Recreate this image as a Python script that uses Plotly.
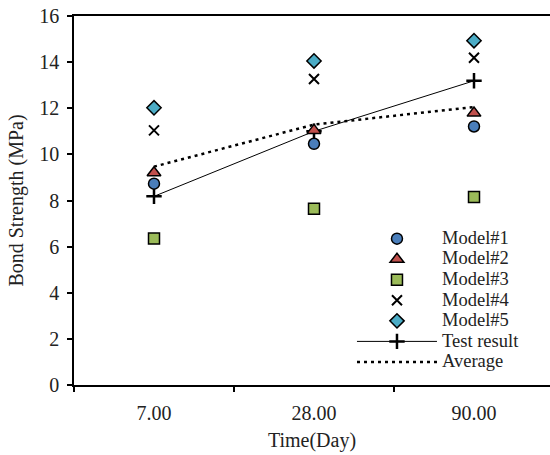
import plotly.graph_objects as go

days = ["7.00", "28.00", "90.00"]
model1 = [8.73, 10.46, 11.21]
model2 = [9.20, 11.04, 11.79]
model3 = [6.35, 7.64, 8.15]
model4 = [11.04, 13.27, 14.19]
model5 = [12.02, 14.05, 14.93]
test_result = [8.18, 11.0, 13.19]
average = [round(sum(v) / 5, 3) for v in zip(model1, model2, model3, model4, model5)]
names = ["Model#1", "Model#2", "Model#3", "Model#4", "Model#5", "Test result", "Average"]

FONT = "Liberation Serif, Times New Roman, serif"
TXT = "#222"


def lg(name):
    return "<span style='font-size:18.5px'>" + name + "</span>"


fig = go.Figure()

fig.add_trace(go.Scatter(x=days, y=test_result, name=lg(names[5]), mode="lines+markers",
                         line=dict(color="black", width=1),
                         marker=dict(symbol="cross-thin", size=11, line=dict(color="black", width=2.5)),
                         legendrank=6))
fig.add_trace(go.Scatter(x=days, y=average, name=lg(names[6]), mode="lines",
                         line=dict(color="black", width=2.5, dash="3px,4px"),
                         legendrank=7))

marker_line = dict(color="black", width=1.5)
fig.add_trace(go.Scatter(x=days, y=model1, name=lg(names[0]), mode="markers",
                         marker=dict(symbol="circle", size=11, color="#4A7EBB", line=marker_line),
                         legendrank=1))
fig.add_trace(go.Scatter(x=days, y=model2, name=lg(names[1]), mode="markers",
                         marker=dict(symbol="triangle-up", size=12, color="#C0504D", line=marker_line),
                         legendrank=2))
fig.add_trace(go.Scatter(x=days, y=model3, name=lg(names[2]), mode="markers",
                         marker=dict(symbol="square", size=11, color="#9BBB59", line=marker_line),
                         legendrank=3))
fig.add_trace(go.Scatter(x=days, y=model4, name=lg(names[3]), mode="markers",
                         marker=dict(symbol="x-thin", size=10, color="black", line=dict(color="black", width=2)),
                         legendrank=4))
fig.add_trace(go.Scatter(x=days, y=model5, name=lg(names[4]), mode="markers",
                         marker=dict(symbol="diamond", size=11, color="#4BACC6", line=marker_line),
                         legendrank=5))

fig.update_layout(
    width=550, height=455,
    margin=dict(l=74, r=0, t=16, b=70),
    paper_bgcolor="white", plot_bgcolor="white",
    font=dict(family=FONT, size=20, color=TXT),
    showlegend=True,
    legend=dict(x=0.584, y=0.438, xanchor="left", yanchor="top",
                bgcolor="rgba(0,0,0,0)", font=dict(family=FONT, size=13.5, color=TXT),
                itemwidth=80, traceorder="normal"),
    xaxis=dict(type="category", range=[-0.5, 2.475], showline=True, linecolor="black", linewidth=1.5,
               mirror=True, ticks="outside", tickson="boundaries", ticklen=5, tickcolor="black",
               tickwidth=1.5, showgrid=False, zeroline=False, ticklabelstandoff=9,
               title=dict(text="Time(Day)", font=dict(family=FONT, size=20), standoff=10),
               tickfont=dict(family=FONT, size=20)),
    yaxis=dict(range=[0, 16], dtick=2, showline=True, linecolor="black", linewidth=1.5,
               ticks="outside", ticklen=5, tickcolor="black", tickwidth=1.5,
               showgrid=False, zeroline=False, ticklabelstandoff=4,
               title=dict(text="Bond Strength (MPa)", font=dict(family=FONT, size=20), standoff=10),
               tickfont=dict(family=FONT, size=20)),
)

fig.write_html("out.html", config={"displayModeBar": False},
               post_script="document.body.style.margin='0px';")
